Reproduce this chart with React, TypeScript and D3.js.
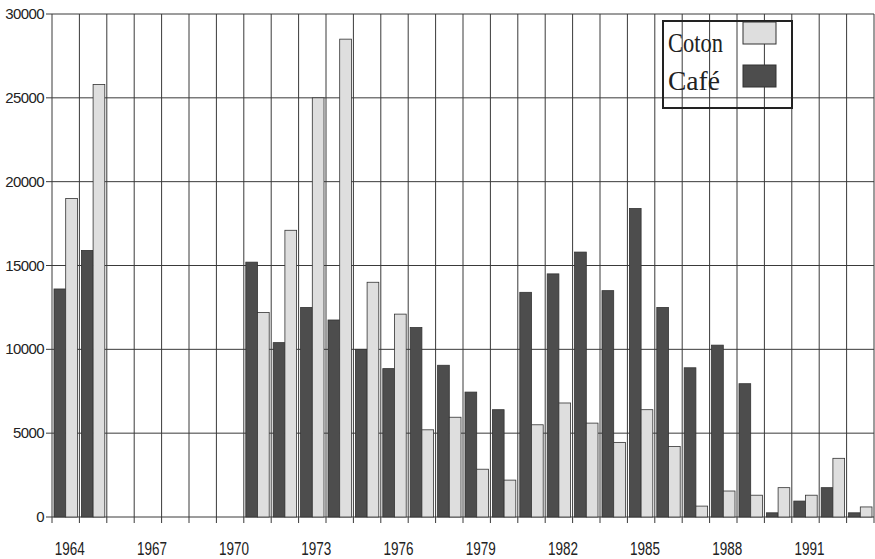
import React from "react";
import * as d3 from "d3";

const years: number[] = [
  1964, 1965, 1966, 1967, 1968, 1969, 1970, 1971, 1972, 1973,
  1974, 1975, 1976, 1977, 1978, 1979, 1980, 1981, 1982, 1983,
  1984, 1985, 1986, 1987, 1988, 1989, 1990, 1991, 1992, 1993,
];
const cafe: (number | null)[] = [
  13600, 15900, null, null, null, null, null, 15200, 10400, 12500,
  11750, 10000, 8850, 11300, 9050, 7450, 6400, 13400, 14500, 15800,
  13500, 18400, 12500, 8900, 10250, 7950, 250, 950, 1750, 250,
];
const coton: (number | null)[] = [
  19000, 25800, null, null, null, null, null, 12200, 17100, 25000,
  28500, 14000, 12100, 5200, 5950, 2850, 2200, 5500, 6800, 5600,
  4450, 6400, 4200, 650, 1550, 1300, 1750, 1300, 3500, 600,
];
const yTicks: number[] = [0, 5000, 10000, 15000, 20000, 25000, 30000];
const xLabelYears: number[] = [1964, 1967, 1970, 1973, 1976, 1979, 1982, 1985, 1988, 1991];
const seriesNames: string[] = ["Café", "Coton"];
const legendNames: string[] = ["Coton", "Café"];

const W = 875;
const H = 559;
const left = 52;
const right = 874;
const top = 14;
const bottom = 517;

const LIGHT = "#dedede";
const DARK = "#4d4d4d";
const GRID = "#3a3a3a";
const colorOf: Record<string, string> = { "Café": DARK, "Coton": LIGHT };

export default function App() {
  const x0 = d3.scaleBand<number>().domain(years).range([left, right]).padding(0);
  const bw = x0.bandwidth();
  const x1 = d3.scaleBand<string>().domain(seriesNames).range([2, bw - 2]).padding(0);
  const y = d3.scaleLinear().domain([0, 30000]).range([bottom, top]);

  const rows = years.map((yr, i) => ({ yr, vals: { "Café": cafe[i], "Coton": coton[i] } as Record<string, number | null> }));

  const boundaries = years.map((yr) => x0(yr)!).concat([right]);

  return (
    <svg
      width={W}
      height={H}
      viewBox={`0 0 ${W} ${H}`}
      style={{ position: "absolute", left: 0, top: 0, background: "#fff" }}
    >
      <rect x={0} y={0} width={W} height={H} fill="#fff" />
      {/* horizontal gridlines */}
      {yTicks.map((t) => (
        <g key={"h" + t}>
          <line x1={left - 6} x2={right} y1={y(t)} y2={y(t)} stroke={GRID} strokeWidth={1} />
          <text
            x={44}
            y={y(t) + 5}
            textAnchor="end"
            fontFamily="'Liberation Sans', Arial, sans-serif"
            fontSize={15}
            letterSpacing={-0.6}
            fill="#222"
          >
            {t}
          </text>
        </g>
      ))}
      {/* vertical gridlines */}
      {boundaries.map((bx, i) => (
        <line key={"v" + i} x1={bx} x2={bx} y1={top} y2={bottom + 6} stroke={GRID} strokeWidth={1} />
      ))}
      {/* bars */}
      {rows.map((r) => (
        <g key={r.yr} transform={`translate(${x0(r.yr)},0)`}>
          {seriesNames.map((s) => {
            const v = r.vals[s];
            if (v == null) return null;
            return (
              <rect
                key={s}
                x={x1(s)!}
                y={y(v)}
                width={x1.bandwidth()}
                height={bottom - y(v)}
                fill={colorOf[s]}
                stroke="#333"
                strokeWidth={0.8}
              />
            );
          })}
        </g>
      ))}
      {/* x labels */}
      {xLabelYears.map((yr) => (
        <text
          key={"xl" + yr}
          x={x0(yr)! + bw / 2 + 4}
          y={555}
          textAnchor="middle"
          fontFamily="'Liberation Sans', Arial, sans-serif"
          fontSize={18}
          textLength={30}
          lengthAdjust="spacingAndGlyphs"
          fill="#222"
        >
          {yr}
        </text>
      ))}
      {/* legend */}
      <g>
        <rect x={663} y={21} width={129} height={87} fill="none" stroke="#222" strokeWidth={2} />
        {legendNames.map((s, i) => (
          <g key={"lg" + s}>
            <text
              x={668}
              y={52 + i * 38}
              fontFamily="'Liberation Serif', 'Times New Roman', serif"
              fontSize={28}
              textLength={s === "Coton" ? 55 : 52}
              lengthAdjust="spacingAndGlyphs"
              fill="#222"
            >
              {s}
            </text>
            <rect
              x={743}
              y={22 + i * 43}
              width={33}
              height={22}
              fill={colorOf[s]}
              stroke="#333"
              strokeWidth={1}
            />
          </g>
        ))}
      </g>
    </svg>
  );
}
